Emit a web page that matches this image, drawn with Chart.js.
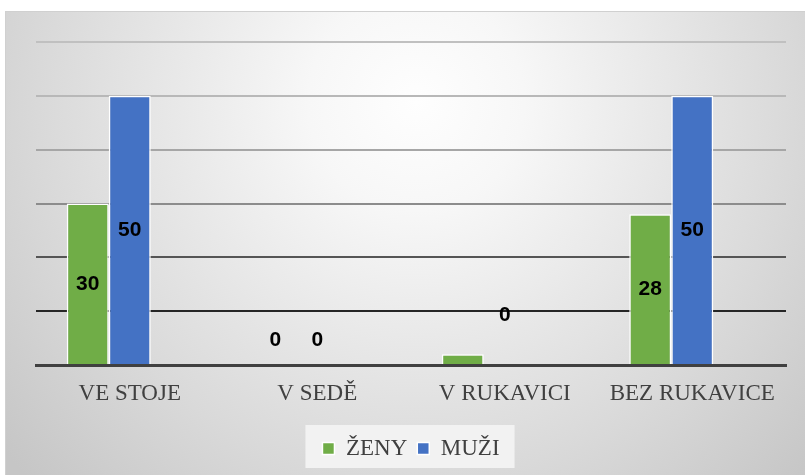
<!DOCTYPE html>
<html>
<head>
<meta charset="utf-8">
<script src="https://cdn.jsdelivr.net/npm/chart.js@4.4.1/dist/chart.umd.min.js"></script>
<style>
  body { margin: 0; background: #ffffff; }
  #wrap { position: absolute; left: 5px; top: 11px; width: 799px; height: 463px; border: 1px solid #d0d0d0; }
  canvas { display: block; }
</style>
</head>
<body>
<div id="wrap"><canvas id="barChart" width="799" height="463"></canvas></div>
<script>
// categories and values
const categories = ['VE STOJE', 'V SEDĚ', 'V RUKAVICI', 'BEZ RUKAVICE'];
const zenyValues = [30, 0, 2, 28];
const muziValues = [50, 0, 0, 50];
const zenyLabels = ['30', '0', '', '28'];
const muziLabels = ['50', '0', '0', '50'];
const yTicks = [0, 10, 20, 30, 40, 50, 60];

// gridline colour per tick value (darker toward the bottom)
const gridColors = { 0: 'rgba(0,0,0,0)', 10: '#262626', 20: '#555555', 30: '#8c8c8c', 40: '#a6a6a6', 50: '#b8b8b8', 60: '#c0c0c0' };

const backgroundPlugin = {
    id: 'bg',
    beforeDraw(chart) {
        const ctx = chart.ctx;
        const g = ctx.createRadialGradient(410, 90, 0, 410, 90, 540);
        g.addColorStop(0, '#fefefe');
        g.addColorStop(0.2, '#f7f7f7');
        g.addColorStop(0.7, '#d9d9d9');
        g.addColorStop(1, '#c6c6c6');
        ctx.save();
        ctx.fillStyle = g;
        ctx.fillRect(0, 0, chart.width, chart.height);
        // light box behind the legend
        const boxes = chart.legend && chart.legend.legendHitBoxes;
        if (boxes && boxes.length) {
            let l = Infinity, r = -Infinity, t = Infinity, b = -Infinity;
            boxes.forEach(h => {
                l = Math.min(l, h.left); r = Math.max(r, h.left + h.width);
                t = Math.min(t, h.top); b = Math.max(b, h.top + h.height);
            });
            ctx.fillStyle = '#f2f2f2';
            ctx.fillRect(l - 17, t - 12, r - l + 32, b - t + 20);
        }
        ctx.restore();
    }
};

const labelPlugin = {
    id: 'barLabels',
    afterDatasetsDraw(chart, args, opts) {
        const ctx = chart.ctx;
        ctx.save();
        ctx.font = 'bold 21px "Liberation Sans", Arial, sans-serif';
        ctx.fillStyle = '#000000';
        ctx.textAlign = 'center';
        ctx.textBaseline = 'middle';
        [zenyLabels, muziLabels].forEach((texts, di) => {
            const meta = chart.getDatasetMeta(di);
            meta.data.forEach((bar, i) => {
                if (!texts[i]) return;
                let y = (bar.y + bar.base) / 2;
                if (chart.data.datasets[di].data[i] === 0) y = bar.base - opts.zeroLift[di][i];
                ctx.fillText(texts[i], bar.x, y);
            });
        });
        ctx.restore();
    }
};

const ctx = document.getElementById('barChart').getContext('2d');
new Chart(ctx, {
    type: 'bar',
    data: {
        labels: categories,
        datasets: [
            { label: 'ŽENY', data: zenyValues, backgroundColor: '#70ad47', borderColor: '#ffffff', borderWidth: 1.5 },
            { label: 'MUŽI', data: muziValues, backgroundColor: '#4472c4', borderColor: '#ffffff', borderWidth: 1.5 },
            { label: '', data: [null, null, null, null], backgroundColor: 'rgba(0,0,0,0)' }
        ]
    },
    options: {
        responsive: false,
        animation: false,
        categoryPercentage: 0.672,
        barPercentage: 1,
        layout: { padding: { left: 30, right: 19, top: 30, bottom: 5 } },
        scales: {
            x: {
                z: 1,
                grid: { display: false, drawTicks: false },
                border: { display: true, color: '#404040', width: 3 },
                ticks: {
                    padding: 15,
                    color: '#404040',
                    font: { family: '"Liberation Serif", "Times New Roman", serif', size: 23 }
                },
                afterFit(scale) { scale.height = 62; }
            },
            y: {
                min: 0,
                max: 60,
                afterBuildTicks(scale) { scale.ticks = yTicks.map(v => ({ value: v })); },
                ticks: { display: false },
                border: { display: false },
                grid: {
                    drawTicks: false,
                    lineWidth: 2,
                    color: c => gridColors[c.tick.value] || '#bfbfbf'
                },
                afterFit(scale) { scale.width = 0; }
            }
        },
        plugins: {
            legend: {
                position: 'bottom',
                labels: {
                    boxWidth: 12,
                    boxHeight: 12,
                    padding: 10,
                    color: '#404040',
                    font: { family: '"Liberation Serif", "Times New Roman", serif', size: 23 },
                    filter: item => item.text !== ''
                }
            },
            tooltip: { enabled: false },
            barLabels: { zeroLift: [[25, 25, 25, 25], [25, 25, 50, 25]] }
        }
    },
    plugins: [backgroundPlugin, labelPlugin]
});
</script>
</body>
</html>
